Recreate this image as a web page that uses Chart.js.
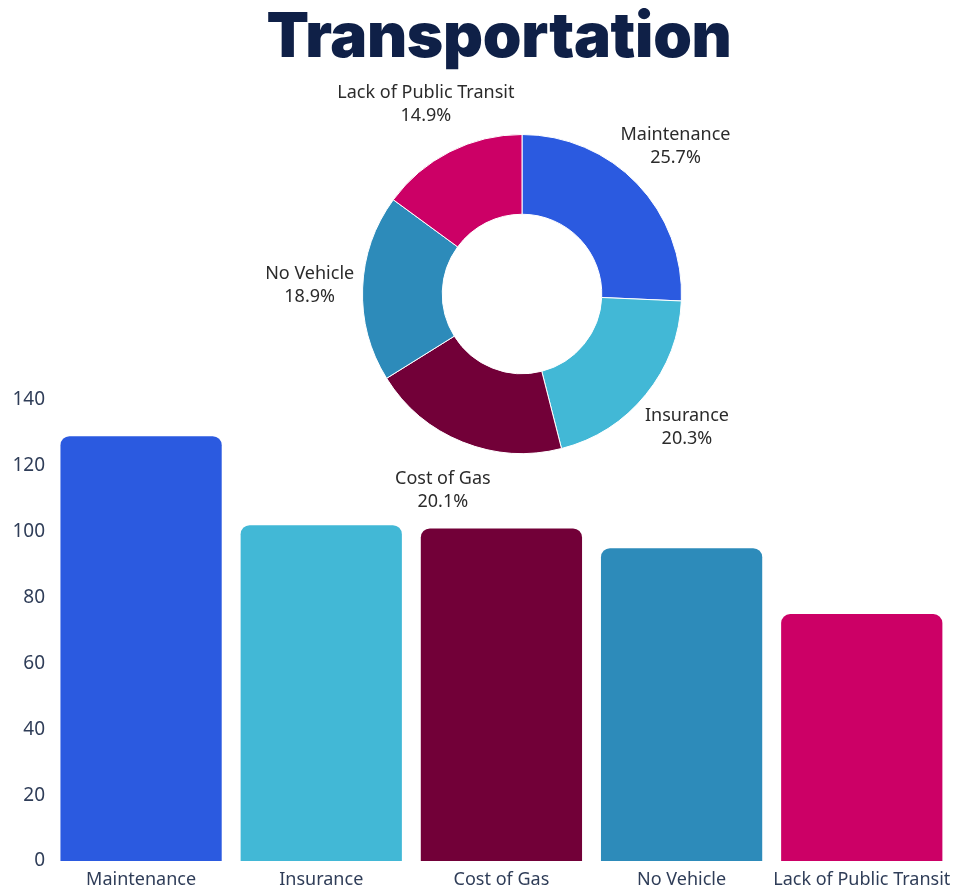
<!DOCTYPE html>
<html>
<head>
<meta charset="utf-8">
<script src="https://cdn.jsdelivr.net/npm/chart.js@4/dist/chart.umd.min.js"></script>
<style>
body { margin: 0; background: #fff; width: 959px; height: 892px; position: relative; overflow: hidden; }
#title {
    position: absolute; left: 499px; top: 0px; transform: translateX(-50%);
    font-family: Inter, "DejaVu Sans", sans-serif; font-weight: 900; font-size: 62px;
    line-height: 70px; color: #0f2047; white-space: nowrap; letter-spacing: -0.3px;
}
#barWrap { position: absolute; left: 0; top: 380px; width: 959px; height: 512px; }
#pieWrap { position: absolute; left: 222px; top: 34px; width: 600px; height: 520px; }
canvas { display: block; }
</style>
</head>
<body>
<div id="title">Transportation</div>
<div id="barWrap"><canvas id="bar" width="959" height="512"></canvas></div>
<div id="pieWrap"><canvas id="pie" width="600" height="520"></canvas></div>
<script>
// data
const categories = ['Maintenance', 'Insurance', 'Cost of Gas', 'No Vehicle', 'Lack of Public Transit'];
const counts = [129, 102, 101, 95, 75];
const colors = ['#2b5ae0', '#42b8d6', '#720038', '#2d8bba', '#cc0066'];
const yMax = 140;
const yStep = 20;

const textColor = '#2f3d58';

// labels around the doughnut: name + percent on two lines
const ringLabels = {
    id: 'ringLabels',
    afterDatasetsDraw(chart) {
        const { ctx } = chart;
        const meta = chart.getDatasetMeta(0);
        const vals = chart.data.datasets[0].data;
        const total = vals.reduce((a, b) => a + b, 0);
        ctx.save();
        ctx.fillStyle = '#2b2b2b';
        ctx.textAlign = 'center';
        ctx.textBaseline = 'middle';
        ctx.font = '18px "Noto Sans", sans-serif';
        meta.data.forEach((arc, i) => {
            const p = arc.getProps(['x', 'y', 'startAngle', 'endAngle', 'outerRadius'], true);
            const mid = (p.startAngle + p.endAngle) / 2;
            const r = p.outerRadius + 53;
            const x = p.x + Math.cos(mid) * r;
            const y = p.y + Math.sin(mid) * r;
            const pct = (vals[i] / total * 100).toFixed(1) + '%';
            ctx.fillText(chart.data.labels[i], x, y - 12);
            ctx.fillText(pct, x, y + 11);
        });
        ctx.restore();
    }
};

new Chart(document.getElementById('pie'), {
    type: 'doughnut',
    data: {
        labels: categories,
        datasets: [{ data: counts, backgroundColor: colors, borderColor: '#fff', borderWidth: 1, hoverOffset: 0 }]
    },
    options: {
        responsive: false, animation: false, cutout: '50%',
        layout: { padding: { left: 140, right: 140, top: 100, bottom: 100 } },
        plugins: { legend: { display: false }, tooltip: { enabled: false } }
    },
    plugins: [ringLabels]
});

new Chart(document.getElementById('bar'), {
    type: 'bar',
    data: {
        labels: categories,
        datasets: [{
            data: counts, backgroundColor: colors,
            borderRadius: 9, borderSkipped: 'start',
            categoryPercentage: 1, barPercentage: 0.895
        }]
    },
    options: {
        responsive: false, animation: false,
        layout: { padding: { top: 20, right: 7, left: 0, bottom: 0 } },
        scales: {
            y: {
                min: 0, max: yMax,
                grid: { display: false, drawTicks: false, tickLength: 0 }, border: { display: false },
                ticks: { stepSize: yStep, padding: 6, color: textColor, font: { size: 19, family: '"Noto Sans", sans-serif' } },
                afterFit: (s) => { s.width = 51; }
            },
            x: {
                grid: { display: false, drawTicks: false, tickLength: 0 }, border: { display: false },
                ticks: { padding: 8, color: textColor, maxRotation: 0, autoSkip: false, font: { size: 18, family: '"Noto Sans", sans-serif' } },
                afterFit: (s) => { s.height = 31; }
            }
        },
        plugins: { legend: { display: false }, tooltip: { enabled: false } }
    }
});
</script>
</body>
</html>
